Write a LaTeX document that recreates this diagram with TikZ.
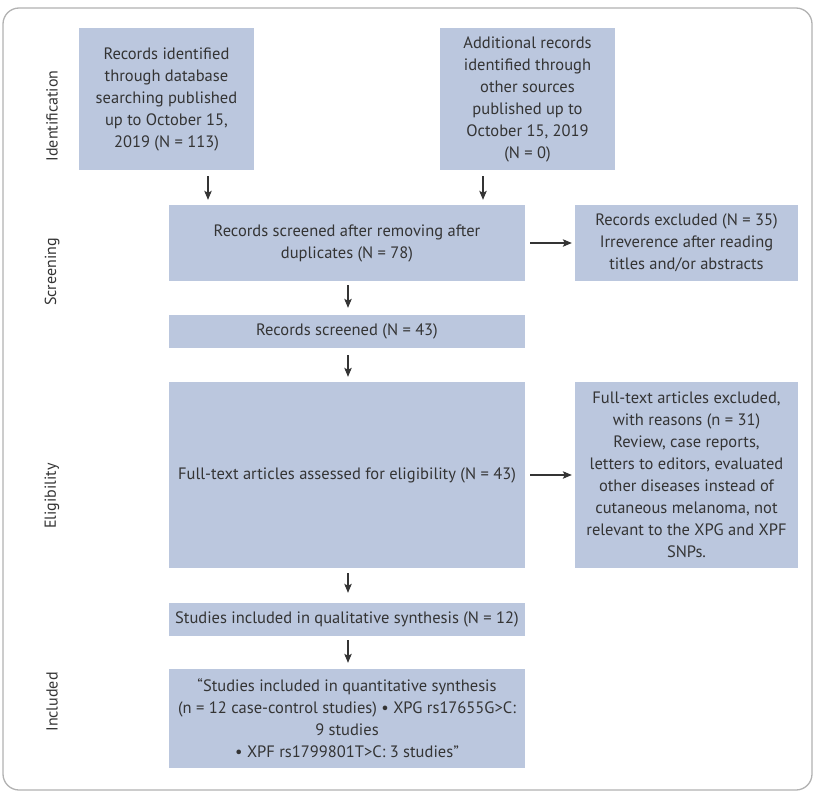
\documentclass[tikz,border=0pt]{standalone}
\usepackage{fontspec}
\setmainfont{PT Sans}
\usetikzlibrary{arrows.meta,calc}
\definecolor{boxfill}{RGB}{187,199,222}
\definecolor{txt}{RGB}{52,52,52}
\definecolor{framec}{RGB}{178,178,178}
\begin{document}
\begin{tikzpicture}[x=1pt,y=-1pt,
  box/.style={fill=boxfill, text=txt, inner sep=0pt, align=center, font=\fontsize{16.5}{22}\selectfont},
  arr/.style={draw=txt, line width=1.1pt, -{Stealth[length=9pt,width=7.5pt,inset=2pt]}},
  phase/.style={rotate=90, text=txt, inner sep=0pt, font=\fontsize{16}{18}\selectfont}]
\useasboundingbox (0,0) rectangle (822,800);
\draw[draw=framec, line width=1.3pt, rounded corners=16pt, fill=white] (3,8) rectangle (812,790);

% phase labels
\node[phase] (lid) at (52,116) {Identification};
\node[phase] (lsc) at (52,272) {Screening};
\node[phase] (lel) at (52,496) {Eligibility};
\node[phase] (lin) at (52,702) {Included};

% boxes
\node[box, minimum width=175pt, minimum height=142pt] (b1) at (166.5,99)
  {Records identified\\through database\\searching published\\up to October 15,\\2019 (N = 113)};
\node[box, minimum width=175pt, minimum height=142pt] (b2) at (527.5,99)
  {Additional records\\identified through\\other sources\\published up to\\October 15, 2019\\(N = 0)};
\node[box, minimum width=356pt, minimum height=76pt] (scr) at (347,243)
  {Records screened after removing after\\duplicates (N = 78)};
\node[box, minimum width=223pt, minimum height=76pt] (ex1) at (686.5,243)
  {Records excluded (N = 35)\\Irreverence after reading\\titles and/or abstracts};
\node[box, minimum width=356pt, minimum height=33pt] (s43) at (347,331.5)
  {Records screened (N = 43)};
\node[box, minimum width=356pt, minimum height=186pt] (full) at (347,475)
  {Full-text articles assessed for eligibility (N = 43)};
\node[box, minimum width=223pt, minimum height=186pt] (ex2) at (686.5,475)
  {Full-text articles excluded,\\with reasons (n = 31)\\Review, case reports,\\letters to editors, evaluated\\other diseases instead of\\cutaneous melanoma, not\\relevant to the XPG and XPF\\SNPs.};
\node[box, minimum width=356pt, minimum height=33pt] (qual) at (347,619.5)
  {Studies included in qualitative synthesis (N = 12)};
\node[box, minimum width=356pt, minimum height=99pt] (quan) at (347,718.5)
  {“Studies included in quantitative synthesis\\(n = 12 case-control studies) • XPG rs17655G>C:\\9 studies\\• XPF rs1799801T>C: 3 studies”};

% arrow columns
\coordinate (a1) at (208,0);
\coordinate (a2) at (483,0);
\coordinate (ac) at (348,0);

\draw[arr, shorten <=6pt, shorten >=5pt] (b1.south -| a1) -- (scr.north -| a1);
\draw[arr, shorten <=6pt, shorten >=5pt] (b2.south -| a2) -- (scr.north -| a2);
\draw[arr, shorten <=4pt, shorten >=7pt] (scr.south -| ac) -- (s43.north -| ac);
\draw[arr, shorten <=7pt, shorten >=5pt] (s43.south -| ac) -- (full.north -| ac);
\draw[arr, shorten <=5pt, shorten >=10pt] (full.south -| ac) -- (qual.north -| ac);
\draw[arr, shorten <=4pt, shorten >=6pt] (qual.south -| ac) -- (quan.north -| ac);
\draw[arr, shorten <=5pt, shorten >=3pt] (scr.east) -- (ex1.west);
\draw[arr, shorten <=5pt, shorten >=3pt] (full.east) -- (ex2.west);
\end{tikzpicture}
\end{document}
